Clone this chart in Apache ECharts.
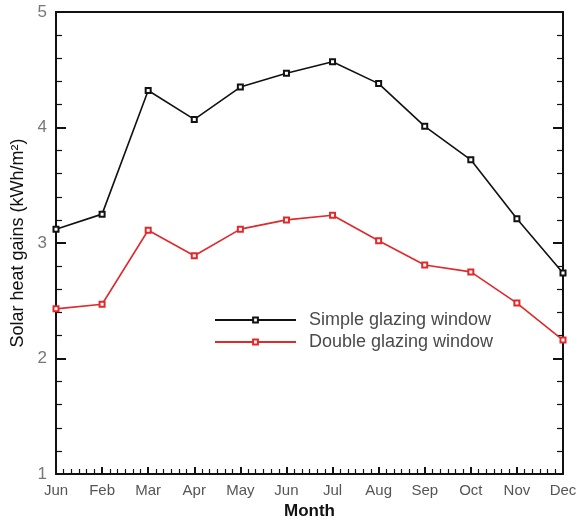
<!DOCTYPE html>
<html>
<head>
<meta charset="utf-8">
<script src="https://cdn.jsdelivr.net/npm/echarts@6/dist/echarts.min.js"></script>
<style>
html,body{margin:0;padding:0;background:#fff;}
#chart{width:577px;height:523px;}
</style>
</head>
<body>
<div id="chart"></div>
<script>
var months = ['Jun','Feb','Mar','Apr','May','Jun','Jul','Aug','Sep','Oct','Nov','Dec'];
var simpleGlazing = [3.12, 3.25, 4.32, 4.07, 4.35, 4.47, 4.57, 4.38, 4.01, 3.72, 3.21, 2.74];
var doubleGlazing = [2.43, 2.47, 3.11, 2.89, 3.12, 3.20, 3.24, 3.02, 2.81, 2.75, 2.48, 2.16];
var yTicks = [1, 2, 3, 4, 5];

function toPairs(arr){ return arr.map(function(v,i){ return [i, v]; }); }

var chart = echarts.init(document.getElementById('chart'));
var font = 'Liberation Sans, Arial, sans-serif';
chart.setOption({
  animation: false,
  grid: {left: 56, right: 14, top: 12, bottom: 49, containLabel: false, outerBoundsMode: 'none'},
  legend: {
    orient: 'vertical',
    left: 209, top: 306,
    itemWidth: 81, itemHeight: 6, itemGap: 4,
    textStyle: {fontFamily: font, fontSize: 18, color: '#4a4a4a', padding: [0,0,0,8]},
    data: ['Simple glazing window', 'Double glazing window']
  },
  xAxis: [{
    type: 'value', min: 0, max: months.length - 1, interval: 1,
    name: 'Month', nameLocation: 'middle', nameGap: 29,
    nameTextStyle: {fontFamily: font, fontSize: 17, fontWeight: 'bold', color: '#111'},
    axisLine: {show: true, onZero: false, lineStyle: {color: '#111', width: 2}},
    axisTick: {show: true, inside: true, length: 7, lineStyle: {color: '#111', width: 2}},
    minorTick: {show: true, splitNumber: 6, length: 5, lineStyle: {color: '#111', width: 1.2}},
    axisLabel: {fontFamily: font, fontSize: 15, color: '#555', margin: 9,
      formatter: function(v){ return months[Math.round(v)] || ''; }},
    splitLine: {show: false}
  },{
    type: 'value', position: 'top', min: 0, max: months.length - 1,
    axisLine: {show: true, onZero: false, lineStyle: {color: '#111', width: 2}},
    axisTick: {show: false}, axisLabel: {show: false}, splitLine: {show: false}
  }],
  yAxis: [{
    type: 'value', min: yTicks[0], max: yTicks[yTicks.length-1], interval: 1,
    name: 'Solar heat gains (kWh/m²)', nameLocation: 'middle', nameGap: 26, nameRotate: 90,
    nameTextStyle: {fontFamily: font, fontSize: 18, color: '#111'},
    axisLine: {show: true, onZero: false, lineStyle: {color: '#111', width: 2}},
    axisTick: {show: true, inside: true, length: 10, lineStyle: {color: '#111', width: 2}},
    minorTick: {show: true, splitNumber: 5, length: 6, lineStyle: {color: '#111', width: 1.2}},
    axisLabel: {fontFamily: font, fontSize: 17, color: '#777', margin: 9},
    splitLine: {show: false}
  },{
    type: 'value', position: 'right', min: yTicks[0], max: yTicks[yTicks.length-1], interval: 1,
    axisLine: {show: true, onZero: false, lineStyle: {color: '#111', width: 2}},
    axisTick: {show: true, inside: true, length: 10, lineStyle: {color: '#111', width: 2}},
    minorTick: {show: true, splitNumber: 5, length: 6, lineStyle: {color: '#111', width: 1.2}},
    axisLabel: {show: false}, splitLine: {show: false}
  }],
  series: [{
    name: 'Simple glazing window', type: 'line', data: toPairs(simpleGlazing),
    symbol: 'emptyRect', symbolSize: 5,
    lineStyle: {color: '#111', width: 1.6},
    itemStyle: {color: '#111', borderColor: '#111', borderWidth: 1}
  },{
    name: 'Double glazing window', type: 'line', data: toPairs(doubleGlazing),
    symbol: 'emptyRect', symbolSize: 5,
    lineStyle: {color: '#e0292b', width: 1.6},
    itemStyle: {color: '#e0292b', borderColor: '#e0292b', borderWidth: 1}
  }]
});
</script>
</body>
</html>
